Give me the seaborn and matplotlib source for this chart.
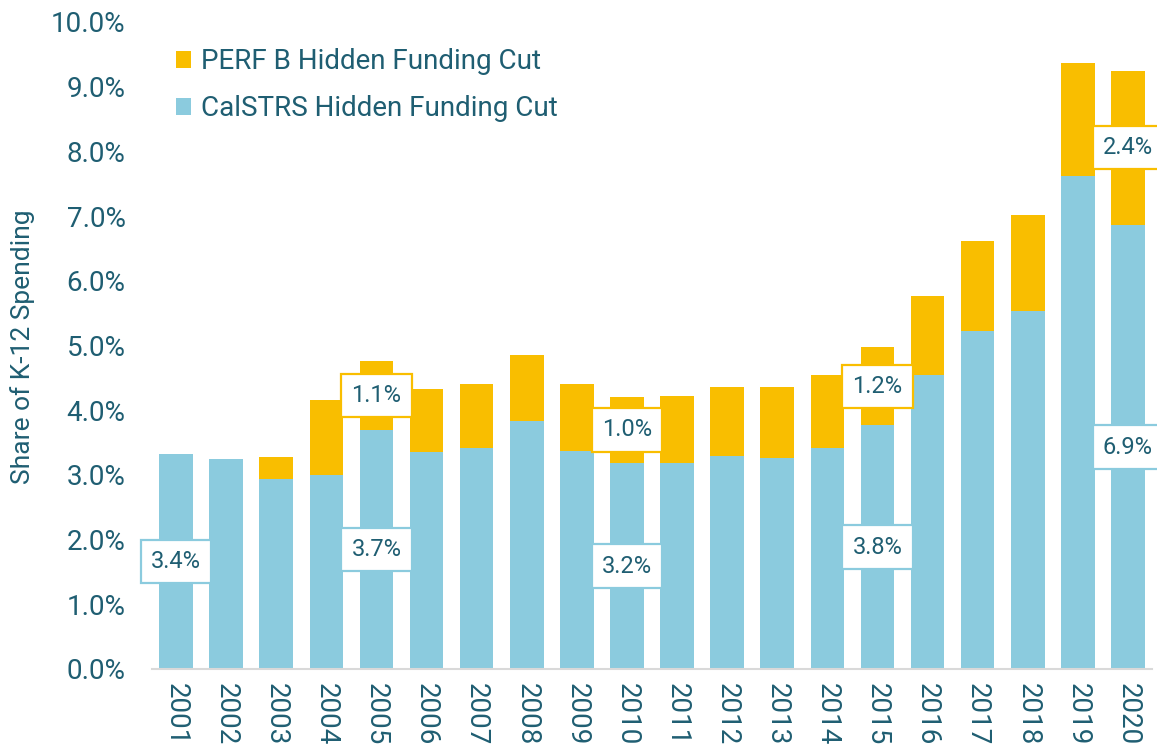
import matplotlib
matplotlib.use("Agg")
import numpy as np
import pandas as pd
import matplotlib.pyplot as plt
import seaborn as sns
from matplotlib.patches import Patch

# data (share of K-12 spending, %)
years = [str(y) for y in range(2001, 2021)]
calstrs = [3.33, 3.24, 2.94, 3.00, 3.70, 3.35, 3.41, 3.84, 3.37, 3.18,
           3.19, 3.29, 3.26, 3.41, 3.77, 4.54, 5.23, 5.53, 7.62, 6.86]
perf_b = [0.00, 0.00, 0.33, 1.15, 1.06, 0.98, 0.99, 1.01, 1.03, 1.03,
          1.03, 1.07, 1.10, 1.13, 1.20, 1.23, 1.38, 1.48, 1.75, 2.39]

# boxed callouts
label_years = ["2001", "2005", "2010", "2015", "2020"]
calstrs_labels = ["3.4%", "3.7%", "3.2%", "3.8%", "6.9%"]
perf_b_labels = [None, "1.1%", "1.0%", "1.2%", "2.4%"]

# colours
blue = "#8BCBDE"
gold = "#F9BE00"
text_col = "#1F5E72"
base_col = "#D9D9D9"

sns.set_style("white")
plt.rcParams["font.family"] = ["Roboto", "DejaVu Sans"]

df = pd.DataFrame({"year": years, "calstrs": calstrs, "perf_b": perf_b})
df["total"] = df["calstrs"] + df["perf_b"]

fig = plt.figure(figsize=(11.57, 7.53), dpi=100)
ax = fig.add_axes([0.1314, 0.1116, 0.8643, 0.8592])

# stacked bars: total (gold) underneath, CalSTRS (blue) on top
sns.barplot(data=df, x="year", y="total", color=gold, saturation=1,
            width=0.67, errorbar=None, linewidth=0, ax=ax)
sns.barplot(data=df, x="year", y="calstrs", color=blue, saturation=1,
            width=0.67, errorbar=None, linewidth=0, ax=ax)

# value boxes
box_style = "square,pad=0.43"
for yr, lab_c, lab_p in zip(label_years, calstrs_labels, perf_b_labels):
    i = years.index(yr)
    c = df.loc[i, "calstrs"]
    p = df.loc[i, "perf_b"]
    ax.text(i, c / 2, lab_c, ha="center", va="center", fontsize=17,
            color=text_col, zorder=5, clip_on=False,
            bbox=dict(boxstyle=box_style, facecolor="white",
                      edgecolor=blue, linewidth=1.6))
    if lab_p is not None:
        ax.text(i, c + p / 2, lab_p, ha="center", va="center", fontsize=17,
                color=text_col, zorder=5, clip_on=False,
                bbox=dict(boxstyle=box_style, facecolor="white",
                          edgecolor=gold, linewidth=1.6))

# axes
ax.set_xlim(-0.48, 19.48)
ax.set_ylim(0, 10)
yt = np.arange(0, 11, 1)
ax.set_yticks(yt)
ax.set_yticklabels([f"{v:.1f}%" for v in yt])
ax.tick_params(axis="y", length=0, pad=19, labelsize=20, labelcolor=text_col)
ax.tick_params(axis="x", length=0, pad=10, labelsize=20, labelcolor=text_col,
               labelrotation=270)
ax.set_xlabel("")
ax.set_ylabel("Share of K-12 Spending", fontsize=19, color=text_col)
ax.yaxis.set_label_coords(-0.117, 0.498)

for s in ["top", "right", "left"]:
    ax.spines[s].set_visible(False)
ax.spines["bottom"].set_color(base_col)
ax.spines["bottom"].set_linewidth(1.5)
ax.grid(False)

# legend
handles = [Patch(facecolor=gold, edgecolor="none", label="PERF B Hidden Funding Cut"),
           Patch(facecolor=blue, edgecolor="none", label="CalSTRS Hidden Funding Cut")]
leg = fig.legend(handles=handles, loc="upper left", bbox_to_anchor=(0.152, 0.936),
                 frameon=False, fontsize=20, handlelength=0.55, handleheight=0.55,
                 handletextpad=0.35, labelspacing=0.72, borderpad=0, borderaxespad=0)
for t in leg.get_texts():
    t.set_color(text_col)

fig.savefig("out.png", dpi=100)
